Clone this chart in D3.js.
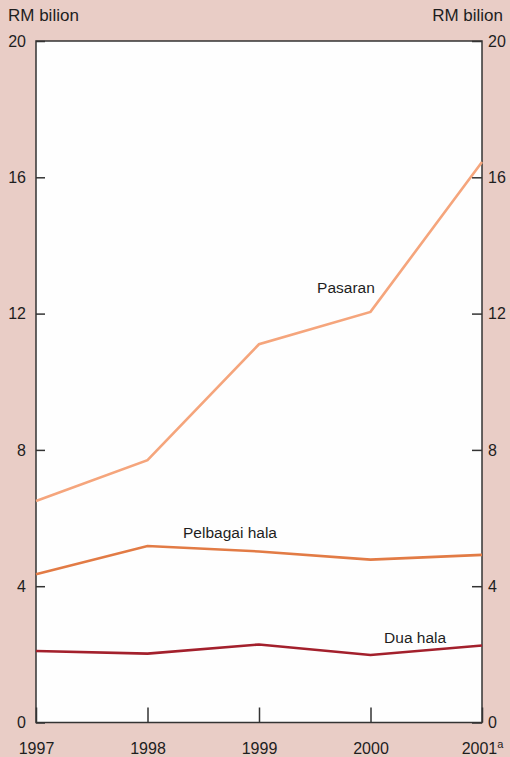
<!DOCTYPE html>
<html>
<head>
<meta charset="utf-8">
<script src="https://cdn.jsdelivr.net/npm/d3@7"></script>
<style>
  html, body { margin: 0; padding: 0; background: #e9cdc6; }
  #chart { width: 510px; height: 757px; }
  svg text { font-family: "Liberation Sans", Arial, sans-serif; fill: #1e1e1e; }
  .axis text { font-size: 16px; }
  .axis path, .axis line { stroke: #333; stroke-width: 1.5; }
</style>
</head>
<body>
<div id="chart"></div>
<script>
/* Pinjaman luar: pasaran, pelbagai hala, dua hala (RM bilion). */

var years = [1997, 1998, 1999, 2000, 2001];
var yTicks = [0, 4, 8, 12, 16, 20];
var pasaran = [6.5, 7.7, 11.1, 12.05, 16.45];
var pelbagaiHala = [4.35, 5.18, 5.02, 4.78, 4.92];
var duaHala = [2.1, 2.02, 2.29, 1.98, 2.26];
var seriesNames = ["Pasaran", "Pelbagai hala", "Dua hala"];

var width = 510, height = 757;
var margin = { top: 41, right: 28, bottom: 34.5, left: 36 };
var innerW = width - margin.left - margin.right;
var innerH = height - margin.top - margin.bottom;

var svg = d3.select("#chart").append("svg")
  .attr("width", width).attr("height", height);

var g = svg.append("g").attr("transform", "translate(" + margin.left + "," + margin.top + ")");

var x = d3.scaleLinear().domain([1997, 2001]).range([0, innerW]);
var y = d3.scaleLinear().domain([0, 20]).range([innerH, 0]);

g.append("rect").attr("width", innerW).attr("height", innerH)
  .attr("fill", "#fefefe").attr("stroke", "#333").attr("stroke-width", 1.5);

g.append("g").attr("class", "axis")
  .call(d3.axisLeft(y).tickValues(yTicks).tickSizeInner(-9).tickSizeOuter(0).tickPadding(10));

g.append("g").attr("class", "axis").attr("transform", "translate(" + innerW + ",0)")
  .call(d3.axisRight(y).tickValues(yTicks).tickSizeInner(-10).tickSizeOuter(0).tickPadding(6));

var xAxis = g.append("g").attr("class", "axis").attr("transform", "translate(0," + innerH + ")")
  .call(d3.axisBottom(x).tickValues(years).tickFormat(d3.format("d"))
    .tickSizeInner(-15).tickSizeOuter(0).tickPadding(20));

xAxis.selectAll(".tick").filter(function (d) { return d === 2001; }).select("text")
  .append("tspan").attr("dy", "-0.55em").attr("font-size", "11px").text("a");

svg.selectAll(".axis .domain").remove();

svg.append("text").attr("x", 8).attr("y", 21).attr("font-size", "17px").text("RM bilion");
svg.append("text").attr("x", 503).attr("y", 21).attr("font-size", "17px")
  .attr("text-anchor", "end").text("RM bilion");

var line = d3.line()
  .x(function (d, i) { return x(years[i]); })
  .y(function (d) { return y(d); });

var series = [
  { values: pasaran, color: "#f5a57c", label: [1999.78, 12.6] },
  { values: pelbagaiHala, color: "#e27b45", label: [1998.74, 5.42] },
  { values: duaHala, color: "#a3202c", label: [2000.4, 2.33] }
];

series.forEach(function (s, i) {
  g.append("path").datum(s.values)
    .attr("fill", "none").attr("stroke", s.color).attr("stroke-width", 2.6)
    .attr("d", line);
  g.append("text")
    .attr("x", x(s.label[0])).attr("y", y(s.label[1]))
    .attr("text-anchor", "middle").attr("font-size", "15.5px")
    .text(seriesNames[i]);
});
</script>
</body>
</html>
